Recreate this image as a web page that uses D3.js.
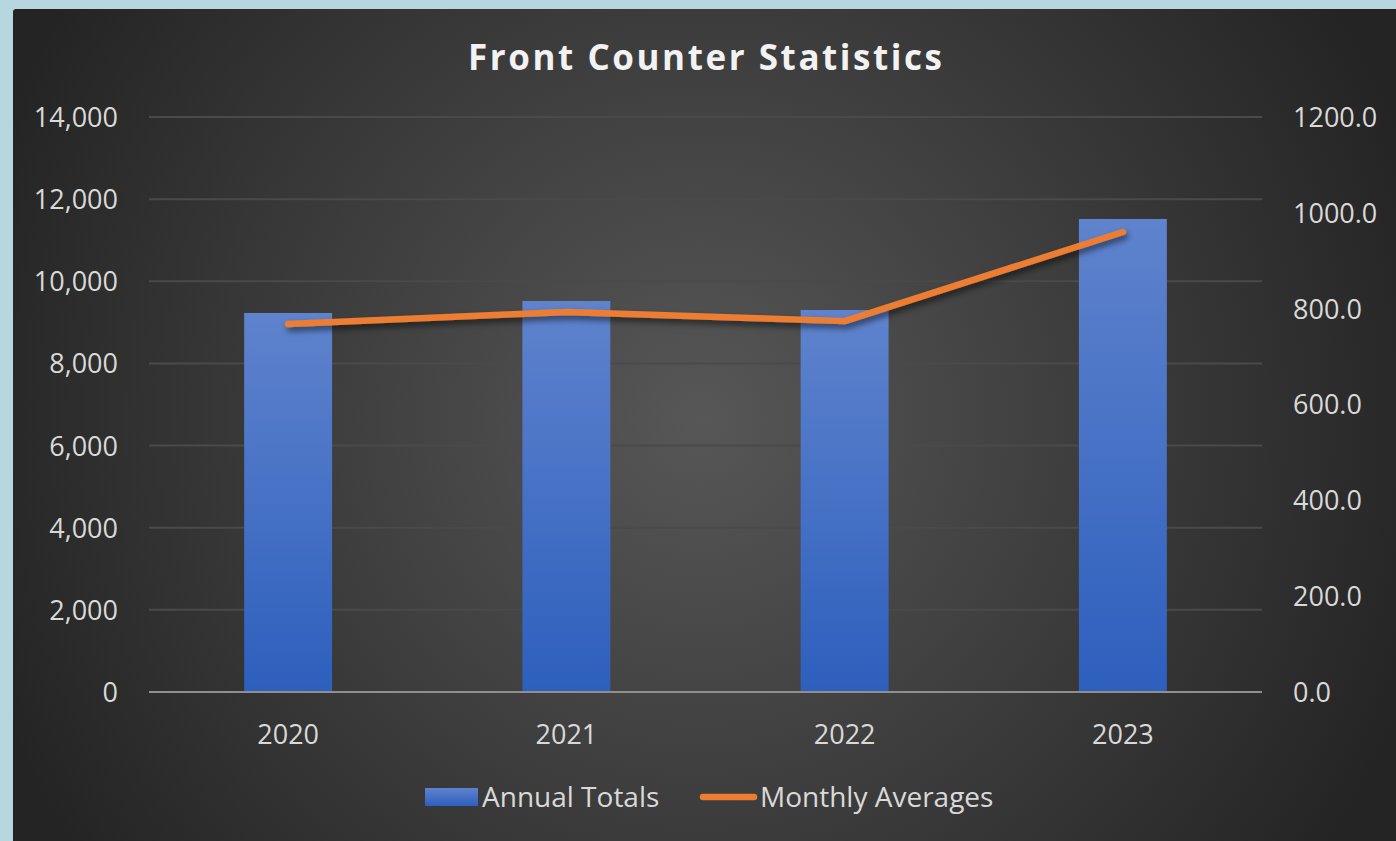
<!DOCTYPE html>
<html><head><meta charset="utf-8">
<script src="https://cdn.jsdelivr.net/npm/d3@7"></script>
<style>
html,body{margin:0;padding:0;background:#b6d7e0;}
svg{display:block;}
</style></head>
<body>
<script>
const categories = ["2020", "2021", "2022", "2023"];
const annualTotals = [9228, 9520, 9301, 11517];
const monthlyAverages = [768, 793, 774, 960];
const leftTicks = [0, 2000, 4000, 6000, 8000, 10000, 12000, 14000];
const rightTicks = [0, 200, 400, 600, 800, 1000, 1200];
const title = "Front Counter Statistics";
const seriesNames = ["Annual Totals", "Monthly Averages"];

const W = 1396, H = 841;
const font = "'Open Sans', 'DejaVu Sans', sans-serif";
const svg = d3.select("body").append("svg").attr("width", W).attr("height", H);
const defs = svg.append("defs");

const rg = defs.append("radialGradient").attr("id", "bg")
  .attr("gradientUnits", "userSpaceOnUse").attr("cx", 700).attr("cy", 420).attr("r", 760);
rg.append("stop").attr("offset", "0").attr("stop-color", "#575757");
rg.append("stop").attr("offset", "1").attr("stop-color", "#242424");

const bg = defs.append("linearGradient").attr("id", "barg").attr("x1", 0).attr("y1", 0).attr("x2", 0).attr("y2", 1);
bg.append("stop").attr("offset", "0").attr("stop-color", "#5f83cd");
bg.append("stop").attr("offset", "1").attr("stop-color", "#2d5fbd");

const sh = defs.append("filter").attr("id", "shadow").attr("x", "-10%").attr("y", "-50%").attr("width", "120%").attr("height", "200%");
sh.append("feDropShadow").attr("dx", 2).attr("dy", 4).attr("stdDeviation", 3).attr("flood-color", "#000").attr("flood-opacity", 0.55);

// chart background
svg.append("rect").attr("x", 13).attr("y", 9).attr("width", W - 13 + 10).attr("height", H - 9 + 10)
  .attr("rx", 3).attr("fill", "url(#bg)");

const plot = { left: 149, right: 1262, top: 117, bottom: 692 };
const x = d3.scaleBand().domain(categories).range([plot.left, plot.right]).paddingInner(0.684).paddingOuter(0.342);
const yL = d3.scaleLinear().domain([0, 14000]).range([plot.bottom, plot.top]);
const yR = d3.scaleLinear().domain([0, 1200]).range([plot.bottom, plot.top]);

// gridlines
svg.append("g").selectAll("line").data(leftTicks.filter(d => d > 0)).join("line")
  .attr("x1", plot.left).attr("x2", plot.right)
  .attr("y1", d => yL(d)).attr("y2", d => yL(d))
  .attr("stroke", "#4a4a4a").attr("stroke-width", 2);

// bars
svg.append("g").selectAll("rect").data(categories).join("rect")
  .attr("x", d => x(d)).attr("width", x.bandwidth())
  .attr("y", (d, i) => yL(annualTotals[i]))
  .attr("height", (d, i) => yL(0) - yL(annualTotals[i]))
  .attr("fill", "url(#barg)");

// zero axis line
svg.append("line").attr("x1", plot.left).attr("x2", plot.right)
  .attr("y1", yL(0)).attr("y2", yL(0)).attr("stroke", "#8f8f8f").attr("stroke-width", 2);

// line
const line = d3.line().x((d, i) => x(categories[i]) + x.bandwidth() / 2).y(d => yR(d));
svg.append("path").datum(monthlyAverages).attr("d", line)
  .attr("fill", "none").attr("stroke", "#ed7d31").attr("stroke-width", 6.5)
  .attr("stroke-linecap", "round").attr("stroke-linejoin", "round")
  .attr("filter", "url(#shadow)");

const tcol = "#d9d9d9";
// left axis
const axL = d3.axisLeft(yL).tickValues(leftTicks).tickSize(0).tickPadding(0).tickFormat(d3.format(","));
const gL = svg.append("g").attr("transform", `translate(118,0)`).call(axL);
gL.select(".domain").remove();
gL.selectAll("text").attr("fill", tcol).attr("font-family", font).attr("font-size", 27).attr("dy", "0.35em");

// right axis
const axR = d3.axisRight(yR).tickValues(rightTicks).tickSize(0).tickPadding(0).tickFormat(d3.format(".1f"));
const gR = svg.append("g").attr("transform", `translate(1293,0)`).call(axR);
gR.select(".domain").remove();
gR.selectAll("text").attr("fill", tcol).attr("font-family", font).attr("font-size", 27).attr("dy", "0.35em");

// x axis
const axX = d3.axisBottom(x).tickSize(0).tickPadding(0);
const gX = svg.append("g").attr("transform", `translate(0,735)`).call(axX);
gX.select(".domain").remove();
gX.selectAll("text").attr("fill", tcol).attr("font-family", font).attr("font-size", 27).attr("dy", "0.35em");

// title
svg.append("text").attr("x", 705).attr("y", 70).attr("text-anchor", "middle")
  .attr("font-family", font).attr("font-weight", "bold").attr("font-size", 35)
  .attr("fill", "#f2f2f2").attr("textLength", 474).attr("lengthAdjust", "spacing").text(title);

// legend
const lg = svg.append("g");
lg.append("rect").attr("x", 425).attr("y", 788).attr("width", 53).attr("height", 18).attr("fill", "url(#barg)");
lg.append("text").attr("x", 482).attr("y", 797).attr("dy", "0.35em").attr("fill", tcol)
  .attr("font-family", font).attr("font-size", 28).text(seriesNames[0]);
lg.append("line").attr("x1", 703).attr("x2", 754).attr("y1", 797).attr("y2", 797)
  .attr("stroke", "#ed7d31").attr("stroke-width", 6.5).attr("stroke-linecap", "round");
lg.append("text").attr("x", 760).attr("y", 797).attr("dy", "0.35em").attr("fill", tcol)
  .attr("font-family", font).attr("font-size", 28).text(seriesNames[1]);
</script>
</body></html>
